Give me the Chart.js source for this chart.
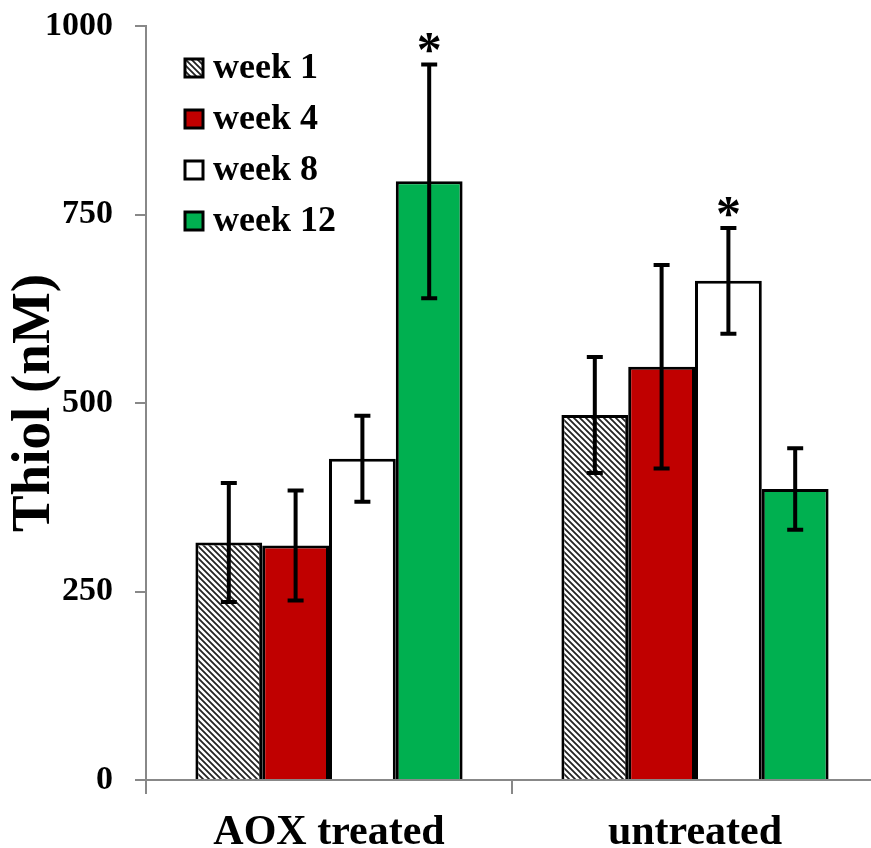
<!DOCTYPE html>
<html>
<head>
<meta charset="utf-8">
<script src="https://cdn.jsdelivr.net/npm/chart.js@4/dist/chart.umd.min.js"></script>
<style>
    html, body { margin: 0; padding: 0; background: #fff; overflow: hidden; }
    #wrap { width: 880px; height: 848px; }
</style>
</head>
<body>
<div id="wrap"><canvas id="graficoThiol" width="880" height="848"></canvas></div>
<script>
const categorias = ['AOX treated', 'untreated'];
const semana1 = [315, 484];
const semana4 = [311, 548];
const semana8 = [426, 662];
const semana12 = [794, 386];
const erro1 = [79, 77];
const erro4 = [73, 135];
const erro8 = [57, 70];
const erro12 = [155, 54];
// asterisco de significancia por serie
const signif1 = [false, false];
const signif4 = [false, false];
const signif8 = [false, true];
const signif12 = [true, false];
const ticksY = [0, 250, 500, 750, 1000];

const fonte = 'Liberation Serif, Times New Roman, serif';

function hachura() {
    const c = document.createElement('canvas');
    c.width = 6; c.height = 6;
    const g = c.getContext('2d');
    g.fillStyle = '#fff';
    g.fillRect(0, 0, 6, 6);
    g.strokeStyle = '#222';
    g.lineWidth = 1.8;
    g.beginPath();
    g.moveTo(-1, -1); g.lineTo(7, 7);
    g.moveTo(-4, 2); g.lineTo(1, 7);
    g.moveTo(5, -1); g.lineTo(8, 2);
    g.stroke();
    return g.createPattern(c, 'repeat');
}

const barrasErro = {
    id: 'barrasErro',
    afterDatasetsDraw(chart) {
        const ctx = chart.ctx;
        const y = chart.scales.y;
        chart.data.datasets.forEach(function (ds, i) {
            const meta = chart.getDatasetMeta(i);
            meta.data.forEach(function (bar, j) {
                const v = ds.data[j];
                const e = ds.erros[j];
                const yTop = y.getPixelForValue(v + e);
                const yBot = y.getPixelForValue(v - e);
                ctx.save();
                ctx.strokeStyle = '#000';
                ctx.lineWidth = 4;
                ctx.beginPath();
                ctx.moveTo(bar.x, yTop); ctx.lineTo(bar.x, yBot);
                ctx.moveTo(bar.x - 8, yTop); ctx.lineTo(bar.x + 8, yTop);
                ctx.moveTo(bar.x - 8, yBot); ctx.lineTo(bar.x + 8, yBot);
                ctx.stroke();
                if (ds.signif[j]) {
                    ctx.fillStyle = '#000';
                    ctx.font = 'bold 50px ' + fonte;
                    ctx.textAlign = 'center';
                    ctx.textBaseline = 'alphabetic';
                    ctx.fillText('*', bar.x, yTop + 2);
                }
                ctx.restore();
            });
        });
    }
};

const legendaInterna = {
    id: 'legendaInterna',
    afterDraw(chart) {
        const ctx = chart.ctx;
        const x0 = 185, y0 = 68, passo = 51;
        chart.data.datasets.forEach(function (ds, i) {
            const yc = y0 + i * passo;
            ctx.save();
            ctx.fillStyle = ds.backgroundColor;
            ctx.fillRect(x0, yc - 9, 18, 18);
            ctx.strokeStyle = '#000';
            ctx.lineWidth = 3;
            ctx.strokeRect(x0, yc - 9, 18, 18);
            ctx.fillStyle = '#000';
            ctx.font = 'bold 36px ' + fonte;
            ctx.textAlign = 'left';
            ctx.textBaseline = 'middle';
            ctx.fillText(ds.label, x0 + 28, yc + 1);
            ctx.restore();
        });
    }
};

const ctx = document.getElementById('graficoThiol');

new Chart(ctx, {
    type: 'bar',
    data: {
        labels: categorias,
        datasets: [
            { label: 'week 1', data: semana1, erros: erro1, signif: signif1, backgroundColor: hachura(), borderColor: '#000', borderWidth: 3 },
            { label: 'week 4', data: semana4, erros: erro4, signif: signif4, backgroundColor: '#c00000', borderColor: '#000', borderWidth: 3 },
            { label: 'week 8', data: semana8, erros: erro8, signif: signif8, backgroundColor: '#ffffff', borderColor: '#000', borderWidth: 3 },
            { label: 'week 12', data: semana12, erros: erro12, signif: signif12, backgroundColor: '#00b050', borderColor: '#000', borderWidth: 3 }
        ]
    },
    options: {
        responsive: false,
        animation: false,
        devicePixelRatio: 1,
        layout: { padding: { top: 26, right: 2, left: 0, bottom: 0 } },
        datasets: { bar: { categoryPercentage: 0.73, barPercentage: 1 } },
        plugins: {
            legend: { display: false },
            tooltip: { enabled: false }
        },
        scales: {
            x: {
                offset: true,
                grid: { offset: true, drawOnChartArea: false, tickLength: 14, color: '#888', lineWidth: 2 },
                border: { color: '#888', width: 2 },
                ticks: { color: '#000', padding: 14, font: { family: fonte, size: 42, weight: 'bold' } },
                afterFit: function (s) { s.height = 68; s.paddingLeft = 0; s.paddingRight = 0; }
            },
            y: {
                min: 0,
                max: 1000,
                afterBuildTicks: function (s) { s.ticks = ticksY.map(function (v) { return { value: v }; }); },
                grid: { drawOnChartArea: false, tickLength: 11, color: '#888', lineWidth: 2 },
                border: { color: '#888', width: 2 },
                ticks: {
                    color: '#000',
                    padding: 22,
                    font: { family: fonte, size: 34, weight: 'bold' },
                    callback: function (v) { return String(v); }
                },
                title: {
                    display: true,
                    text: 'Thiol (nM)',
                    color: '#000',
                    padding: { top: 2, bottom: 0 },
                    font: { family: fonte, size: 55, weight: 'bold' }
                },
                afterFit: function (s) { s.width = 146; s.paddingTop = 0; s.paddingBottom = 0; }
            }
        }
    },
    plugins: [barrasErro, legendaInterna]
});
</script>
</body>
</html>
